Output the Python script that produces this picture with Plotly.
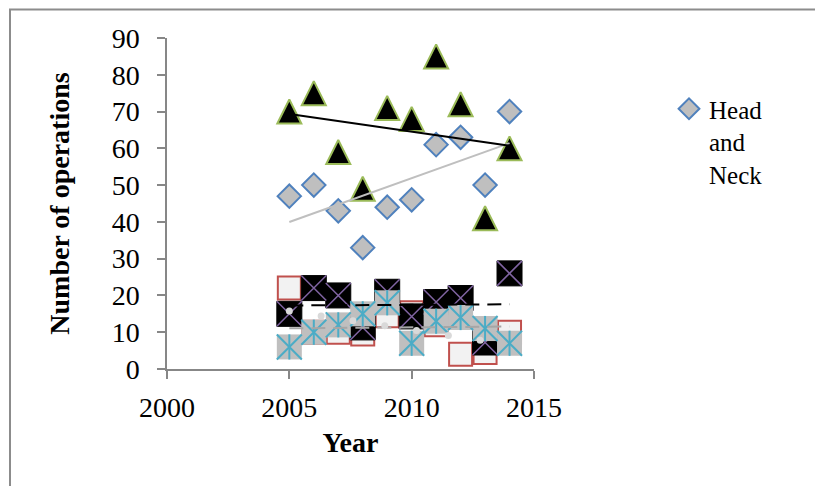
import numpy as np
import plotly.graph_objects as go

# ---------------- data ----------------
years = [2005, 2006, 2007, 2008, 2009, 2010, 2011, 2012, 2013, 2014]
head_neck = [47, 50, 43, 33, 44, 46, 61, 63, 50, 70]
triangle_series = [70, 75, 59, 49, 71, 68, 85, 72, 41, 60]
black_series = [15, 22, 20, 11.3, 21, 14.3, 18.2, 19.3, 7.2, 26]
red_series = [22, 10, 10, 9.5, 14.5, 15.3, 12, 4, 4.5, 10]
cyan_series = [6, 10, 12, 15, 18, 7, 13, 14, 11, 7]
x_ticks = [2000, 2005, 2010, 2015]
y_ticks = [0, 10, 20, 30, 40, 50, 60, 70, 80, 90]

FONT = "Liberation Serif"
AX = "#878787"

W, H = 815, 486
ML, MR, MT, MB = 167, 281, 38, 117
PW, PH = W - ML - MR, H - MT - MB


def trend(y):
    k, b = np.polyfit(years, y, 1)
    xs = np.array([min(years), max(years)], dtype=float)
    return xs, k * xs + b


fig = go.Figure()

# Head and Neck diamonds
fig.add_trace(go.Scatter(x=years, y=head_neck, mode="markers", name="Head<br>and<br>Neck",
                         marker=dict(symbol="diamond", size=18, color="#bfbfbf",
                                     line=dict(color="#4f81bd", width=2))))
# triangles (black fill, green outline)
fig.add_trace(go.Scatter(x=years, y=triangle_series, mode="markers", showlegend=False,
                         marker=dict(symbol="arrow-down", angle=180, standoff=12, size=24,
                                     color="black", line=dict(color="#9bbb59", width=2))))
# red outlined squares
fig.add_trace(go.Scatter(x=years, y=red_series, mode="markers", showlegend=False,
                         marker=dict(symbol="square", size=23, color="#f2f2f2",
                                     line=dict(color="#c0504d", width=2))))
# black squares with purple X
fig.add_trace(go.Scatter(x=years, y=black_series, mode="markers", showlegend=False,
                         marker=dict(symbol="square", size=25, color="black",
                                     line=dict(color="black", width=1))))
fig.add_trace(go.Scatter(x=years, y=black_series, mode="markers", showlegend=False,
                         marker=dict(symbol="x-thin", size=25, color="#8064a2",
                                     line=dict(color="#8064a2", width=1.5))))
# gray squares with cyan star
fig.add_trace(go.Scatter(x=years, y=cyan_series, mode="markers", showlegend=False,
                         marker=dict(symbol="square", size=25, color="#bfbfbf",
                                     line=dict(color="#bfbfbf", width=0))))
fig.add_trace(go.Scatter(x=years, y=cyan_series, mode="markers", showlegend=False,
                         marker=dict(symbol="x-thin", size=25, color="#4bacc6",
                                     line=dict(color="#4bacc6", width=2))))
fig.add_trace(go.Scatter(x=years, y=cyan_series, mode="markers", showlegend=False,
                         marker=dict(symbol="line-ns", size=18, color="#4bacc6",
                                     line=dict(color="#4bacc6", width=2))))

# trendlines
tx, ty = trend(head_neck)
fig.add_trace(go.Scatter(x=tx, y=ty, mode="lines", showlegend=False,
                         line=dict(color="#bfbfbf", width=2)))
tx, ty = trend(triangle_series)
fig.add_trace(go.Scatter(x=tx, y=ty, mode="lines", showlegend=False,
                         line=dict(color="black", width=2)))
tx, ty = trend(black_series)
fig.add_trace(go.Scatter(x=tx, y=ty, mode="lines", showlegend=False,
                         line=dict(color="black", width=2, dash="14px,8px")))
tx, ty = trend(cyan_series)
fig.add_trace(go.Scatter(x=tx, y=ty, mode="lines", showlegend=False,
                         line=dict(color="#a6a6a6", width=2, dash="14px,8px")))
# round-dot trendline of the red series
kr, br = np.polyfit(years, red_series, 1)
dot_x = np.arange(min(years), max(years) + 1e-9, 1.3)
fig.add_trace(go.Scatter(x=dot_x, y=kr * dot_x + br, mode="markers", showlegend=False,
                         marker=dict(symbol="circle", size=7, color="#d9d9d9")))

fig.update_layout(
    width=W, height=H,
    margin=dict(l=ML, r=MR, t=MT, b=MB, autoexpand=False),
    paper_bgcolor="white", plot_bgcolor="white",
    showlegend=True,
    legend=dict(x=(669 - ML) / PW, y=(MT + PH - 86) / PH, xanchor="left", yanchor="top",
                font=dict(family=FONT, size=25, color="black"), valign="top",
                itemwidth=30, bgcolor="rgba(0,0,0,0)"),
    xaxis=dict(range=[2000, 2015], tickvals=x_ticks, ticktext=[str(v) for v in x_ticks],
               ticks="outside", ticklen=8, tickwidth=1.5, tickcolor=AX,
               showline=True, linecolor=AX, linewidth=1.5, showgrid=False, zeroline=False,
               ticklabelstandoff=5,
               tickfont=dict(family=FONT, size=28, color="black"),
               title=dict(text="<b>Year</b>", font=dict(family=FONT, size=28, color="black"),
                          standoff=10)),
    yaxis=dict(range=[0, 90], tickvals=y_ticks, ticktext=[str(v) for v in y_ticks],
               ticks="outside", ticklen=8, tickwidth=1.5, tickcolor=AX,
               showline=True, linecolor=AX, linewidth=1.5, showgrid=False, zeroline=False,
               ticklabelstandoff=12,
               tickfont=dict(family=FONT, size=28, color="black"),
               title=dict(text="<b>Number of operations</b>",
                          font=dict(family=FONT, size=28, color="black"), standoff=34)),
    shapes=[
        dict(type="line", xref="paper", yref="paper",
             x0=(10 - ML) / PW, x1=(10 - ML) / PW, y0=(MT + PH - 9) / PH, y1=(MT + PH - 500) / PH,
             line=dict(color="#8c8c8c", width=2)),
        dict(type="line", xref="paper", yref="paper",
             x0=(9 - ML) / PW, x1=(830 - ML) / PW, y0=(MT + PH - 9.5) / PH, y1=(MT + PH - 9.5) / PH,
             line=dict(color="#8c8c8c", width=2)),
    ],
)

fig.write_html("out.html")
